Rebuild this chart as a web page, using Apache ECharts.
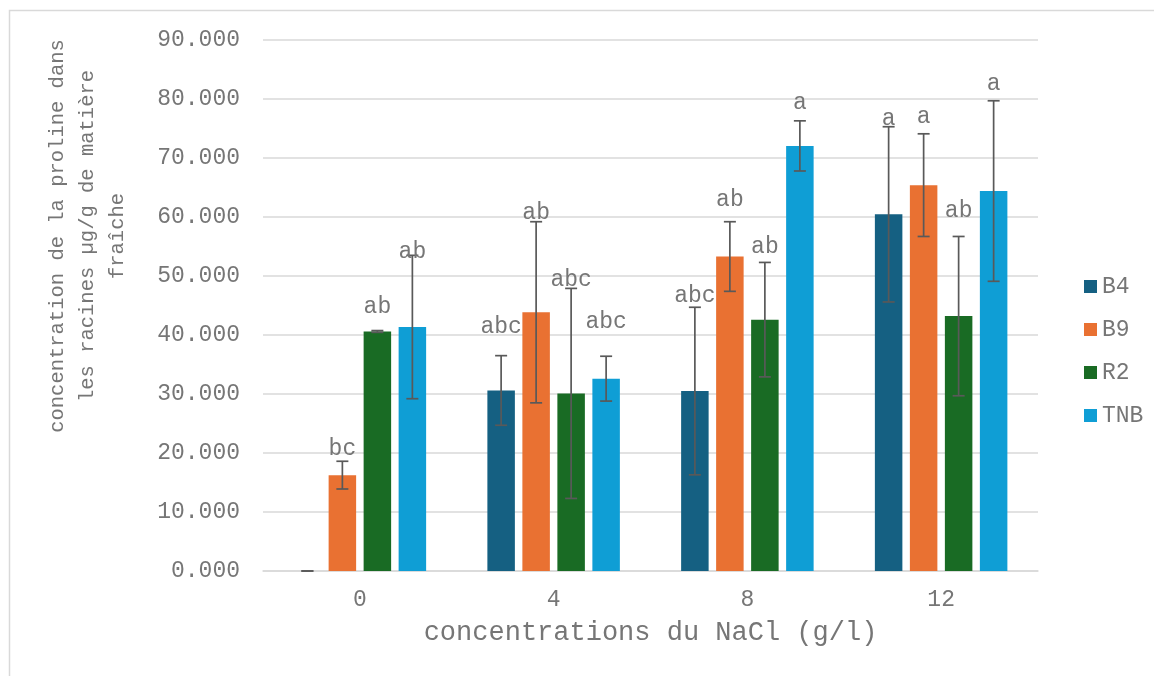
<!DOCTYPE html>
<html>
<head>
<meta charset="utf-8">
<script src="https://cdn.jsdelivr.net/npm/echarts@6/dist/echarts.min.js"></script>
<style>
html,body{margin:0;padding:0;background:#fff;}
#chart{width:1154px;height:676px;}
</style>
</head>
<body>
<div id="chart"></div>
<script>
// ---- data ----
const categories = ['0', '4', '8', '12'];
const seriesNames = ['B4', 'B9', 'R2', 'TNB'];
const B4 = [0, 30.6, 30.5, 60.45];
const B9 = [16.25, 43.85, 53.3, 65.4];
const R2 = [40.6, 30.1, 42.6, 43.2];
const TNB = [41.35, 32.6, 72.05, 64.4];
const B4err = [0, 5.9, 14.2, 14.85];
const B9err = [2.35, 15.35, 5.9, 8.7];
const R2err = [0.15, 17.8, 9.7, 13.5];
const TNBerr = [12.15, 3.8, 4.25, 15.3];
const B4letters = ['', 'abc', 'abc', 'a'];
const B9letters = ['bc', 'ab', 'ab', 'a'];
const R2letters = ['ab', 'abc', 'ab', 'ab'];
const TNBletters = ['ab', 'abc', 'a', 'a'];
const B4letterAt = [0, 41.4, 46.6, 76.6];
const B9letterAt = [20.7, 60.7, 62.9, 76.9];
const R2letterAt = [44.8, 49.3, 54.9, 61.1];
const TNBletterAt = [54.1, 42.2, 79.4, 82.6];
const yTicks = { min: 0, max: 90, interval: 10 };
const xTitle = 'concentrations du NaCl (g/l)';
const yTitle = 'concentration de la proline dans\nles racines µg/g de matière\nfraîche';

// ---- style ----
const colors = ['#156082', '#E97132', '#196B24', '#0F9ED5'];
const FONT = "'Courier New', 'Liberation Mono', monospace";
const TXT = '#767676';
const BAR_W = 27.5, BAR_GAP = 7.5;

const values = [B4, B9, R2, TNB];
const errs = [B4err, B9err, R2err, TNBerr];
const letters = [B4letters, B9letters, R2letters, TNBletters];
const letterAt = [B4letterAt, B9letterAt, R2letterAt, TNBletterAt];

const series = [];
seriesNames.forEach((name, k) => {
  series.push({
    name: name,
    type: 'bar',
    data: values[k],
    barWidth: BAR_W,
    barGap: (BAR_GAP / BAR_W * 100) + '%',
    itemStyle: { color: colors[k] },
    emphasis: { disabled: true },
    z: 2
  });
});
seriesNames.forEach((name, k) => {
  const offset = (k - 1.5) * (BAR_W + BAR_GAP);
  series.push({
    name: name + '_err',
    type: 'custom',
    z: 5,
    clip: false,
    silent: true,
    data: categories.map((c, i) => [i, values[k][i], errs[k][i], letterAt[k][i]]),
    encode: { x: 0, y: 1 },
    renderItem: function (params, api) {
      const i = api.value(0);
      const v = api.value(1), e = api.value(2), la = api.value(3);
      const top = api.coord([i, v + e]);
      const bot = api.coord([i, v - e]);
      const x = top[0] + offset;
      const cap = 6;
      const st = { stroke: '#595959', lineWidth: 1.7 };
      const children = [
        { type: 'line', shape: { x1: x, y1: top[1], x2: x, y2: bot[1] }, style: st },
        { type: 'line', shape: { x1: x - cap, y1: top[1], x2: x + cap, y2: top[1] }, style: st },
        { type: 'line', shape: { x1: x - cap, y1: bot[1], x2: x + cap, y2: bot[1] }, style: st }
      ];
      const txt = letters[k][params.dataIndex];
      if (txt) {
        const p = api.coord([i, la]);
        children.push({
          type: 'text',
          x: x, y: p[1],
          style: { text: txt, font: '23px ' + FONT, fill: TXT, align: 'center', verticalAlign: 'middle' }
        });
      }
      return { type: 'group', children: children };
    }
  });
});

const chart = echarts.init(document.getElementById('chart'), null, { renderer: 'canvas' });
chart.setOption({
  animation: false,
  backgroundColor: '#ffffff',
  grid: { left: 263, right: 116, top: 40, bottom: 105, containLabel: false },
  legend: {
    data: seriesNames,
    orient: 'vertical',
    left: 1079,
    top: 270,
    itemWidth: 13,
    itemHeight: 13,
    itemGap: 20,
    icon: 'rect',
    textStyle: { fontFamily: FONT, fontSize: 23, color: TXT, lineHeight: 23 },
    selectedMode: false
  },
  xAxis: {
    type: 'category',
    data: categories,
    axisTick: { show: false },
    axisLine: { show: true, lineStyle: { color: '#d9d9d9', width: 1.5 } },
    axisLabel: { fontFamily: FONT, fontSize: 23, color: TXT, margin: 17 },
    name: xTitle,
    nameLocation: 'middle',
    nameGap: 48,
    nameTextStyle: { fontFamily: FONT, fontSize: 27, color: TXT }
  },
  yAxis: {
    type: 'value',
    min: yTicks.min,
    max: yTicks.max,
    interval: yTicks.interval,
    axisLine: { show: false },
    axisTick: { show: false },
    splitLine: { lineStyle: { color: '#d9d9d9', width: 1.5 } },
    axisLabel: {
      fontFamily: FONT, fontSize: 23, color: TXT, margin: 23,
      formatter: v => v.toFixed(3)
    }
  },
  graphic: [
    {
      type: 'rect',
      shape: { x: 9.5, y: 10.5, width: 1170, height: 700 },
      style: { fill: 'none', stroke: '#d9d9d9', lineWidth: 1.5 },
      silent: true, z: -10
    },
    {
      type: 'text',
      x: 88, y: 236,
      rotation: Math.PI / 2,
      style: {
        text: yTitle,
        font: '20.5px ' + FONT,
        fill: TXT,
        align: 'center',
        verticalAlign: 'middle',
        lineHeight: 30
      },
      silent: true
    }
  ],
  series: series
});
</script>
</body>
</html>
